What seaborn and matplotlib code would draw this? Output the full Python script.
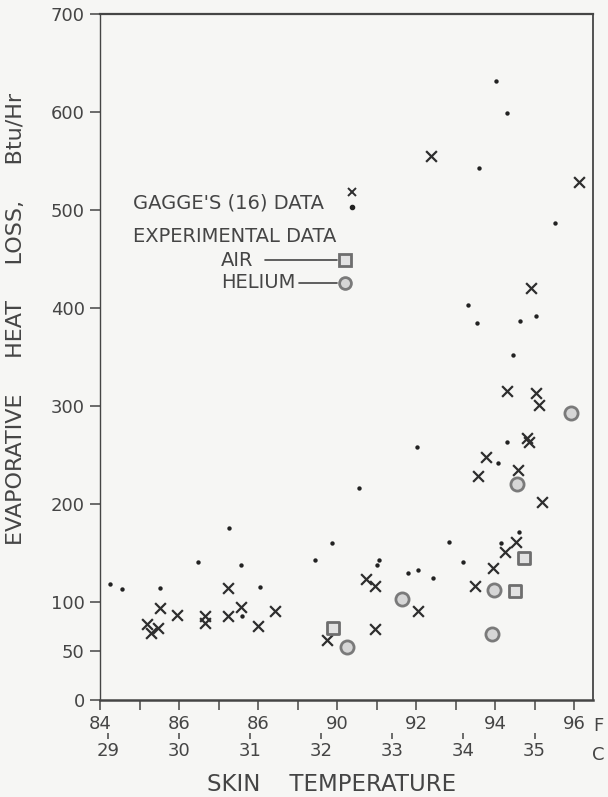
import numpy as np
import pandas as pd
import seaborn as sns
import matplotlib.pyplot as plt

# skin temperature (F) and evaporative heat loss (Btu/Hr)
gagge_x_temp = [85.52, 85.94, 85.18, 85.46, 85.29, 86.67, 86.67, 87.25, 87.23, 87.56,
                88.01, 88.43, 89.74, 90.73, 90.96, 90.96, 94.29, 95.04, 95.12, 94.82,
                94.85, 93.77, 93.58, 94.57, 95.18, 94.53, 94.26, 93.94, 93.48, 92.06,
                92.37, 96.13, 94.90]
gagge_x_loss = [93.5, 87, 77.5, 73, 68, 85.7, 79, 114, 85.7, 95,
                76, 91, 61, 123.5, 116, 72, 315.6, 313.6, 301, 267,
                263.6, 248, 229, 234.7, 201.7, 161.5, 151, 134.7, 116.6, 91,
                555, 529, 420.7]

gagge_dot_temp = [84.25, 84.55, 85.52, 86.48, 87.27, 87.56, 87.59, 88.04, 89.44, 89.88,
                  90.56, 91.05, 91.00, 91.79, 92.06, 92.42, 92.02, 92.83, 93.18, 94.15,
                  94.60, 94.08, 94.29, 94.46, 93.32, 93.55, 94.63, 95.04, 94.03, 94.29,
                  93.59, 95.52]
gagge_dot_loss = [118, 113, 114, 141, 176, 138, 86, 115, 142.5, 160,
                  216.6, 142.5, 137.8, 130, 132.6, 124, 258, 161.5, 141, 160.5,
                  171.7, 242, 263.6, 352, 402.7, 384.7, 386.4, 392, 631.6, 598.6,
                  542.5, 486.7]

air_temp = [89.89, 94.51, 94.72]
air_loss = [73, 111.5, 144.5]

helium_temp = [90.24, 91.64, 93.93, 93.98, 94.56, 95.92]
helium_loss = [54.4, 102.7, 67, 112, 220.4, 292.5]

f_ticks = list(range(84, 97))
f_labels = ['84', '', '86', '', '86', '', '90', '', '92', '', '94', '', '96']
c_ticks = [29, 30, 31, 32, 33, 34, 35]
y_ticks = [0, 50, 100, 200, 300, 400, 500, 600, 700]

sns.set_style('white')
plt.rcParams['font.family'] = ['DejaVu Sans']
ink = '#454545'
paper = '#f6f6f4'

fig = plt.figure(figsize=(6.08, 7.97), dpi=100, facecolor=paper)
ax = fig.add_axes([0.1645, 0.1217, 0.8109, 0.8607], facecolor=paper)

sns.scatterplot(x=gagge_x_temp, y=gagge_x_loss, marker='x', s=60, color='#2e2e2e',
                linewidth=1.6, ax=ax)
sns.scatterplot(x=gagge_dot_temp, y=gagge_dot_loss, marker='o', s=10, color='#222222',
                linewidth=0, ax=ax)
sns.scatterplot(x=air_temp, y=air_loss, marker='s', s=80, facecolor='#e2e2e2',
                edgecolor='#6e6e6e', linewidth=2, ax=ax)
sns.scatterplot(x=helium_temp, y=helium_loss, marker='o', s=90, facecolor='#d6d6d6',
                edgecolor='#7a7a7a', linewidth=2, ax=ax)

ax.set_xlim(84, 96.48)
ax.set_ylim(0, 700)
for side in ['left', 'right', 'top', 'bottom']:
    ax.spines[side].set_color(ink)
ax.spines['left'].set_linewidth(1.0)
ax.spines['right'].set_linewidth(1.3)
ax.spines['top'].set_linewidth(1.6)
ax.spines['bottom'].set_linewidth(1.8)

ax.set_xticks(f_ticks)
ax.set_xticklabels(f_labels)
ax.set_yticks(y_ticks)
ax.set_yticklabels([str(v) for v in y_ticks])
ax.tick_params(axis='both', direction='out', length=7, width=1.1, color=ink,
               labelcolor=ink, labelsize=13, pad=4)
ax.tick_params(axis='x', bottom=True)
ax.tick_params(axis='y', left=True)

# celsius scale under the fahrenheit one
sec = ax.secondary_xaxis(-0.048, functions=(lambda f: (f - 32) / 1.8, lambda c: c * 1.8 + 32))
sec.set_xticks(c_ticks)
sec.set_xticklabels([str(c) for c in c_ticks])
sec.spines['bottom'].set_visible(False)
sec.tick_params(axis='x', direction='out', length=4.5, width=1.1, color=ink,
                labelcolor=ink, labelsize=13, pad=2)

fig.text(598 / 608, 1 - 726 / 797, 'F', ha='center', va='center', fontsize=13, color=ink)
fig.text(598 / 608, 1 - 755 / 797, 'C', ha='center', va='center', fontsize=13, color=ink)
fig.text(0.546, 0.016, 'SKIN    TEMPERATURE', ha='center', va='center', fontsize=16.5, color=ink)
fig.text(0.026, 0.6, 'EVAPORATIVE     HEAT     LOSS,     Btu/Hr', rotation=90, ha='center',
         va='center', fontsize=16, color=ink)

# legend drawn the way the original lettering does it
tr = ax.transAxes
ax.text(0.067, 0.7245, "GAGGE'S (16) DATA", transform=tr, fontsize=14, color=ink, va='center')
ax.plot([0.511], [0.7405], marker='x', ms=6, mew=1.4, color='#2e2e2e', transform=tr)
ax.plot([0.511], [0.7187], marker='o', ms=3, color='#222222', transform=tr)
ax.text(0.067, 0.675, 'EXPERIMENTAL DATA', transform=tr, fontsize=14, color=ink, va='center')
ax.text(0.245, 0.641, 'AIR', transform=tr, fontsize=14, color=ink, va='center')
ax.plot([0.335, 0.481], [0.641, 0.641], color=ink, lw=1.2, transform=tr)
ax.plot([0.497], [0.641], marker='s', ms=8, mfc='#e2e2e2', mec='#6e6e6e', mew=2, transform=tr)
ax.text(0.245, 0.608, 'HELIUM', transform=tr, fontsize=14, color=ink, va='center')
ax.plot([0.404, 0.481], [0.608, 0.608], color=ink, lw=1.2, transform=tr)
ax.plot([0.497], [0.608], marker='o', ms=8.5, mfc='#d6d6d6', mec='#7a7a7a', mew=2, transform=tr)

fig.savefig('out.png', dpi=100, facecolor=paper)
